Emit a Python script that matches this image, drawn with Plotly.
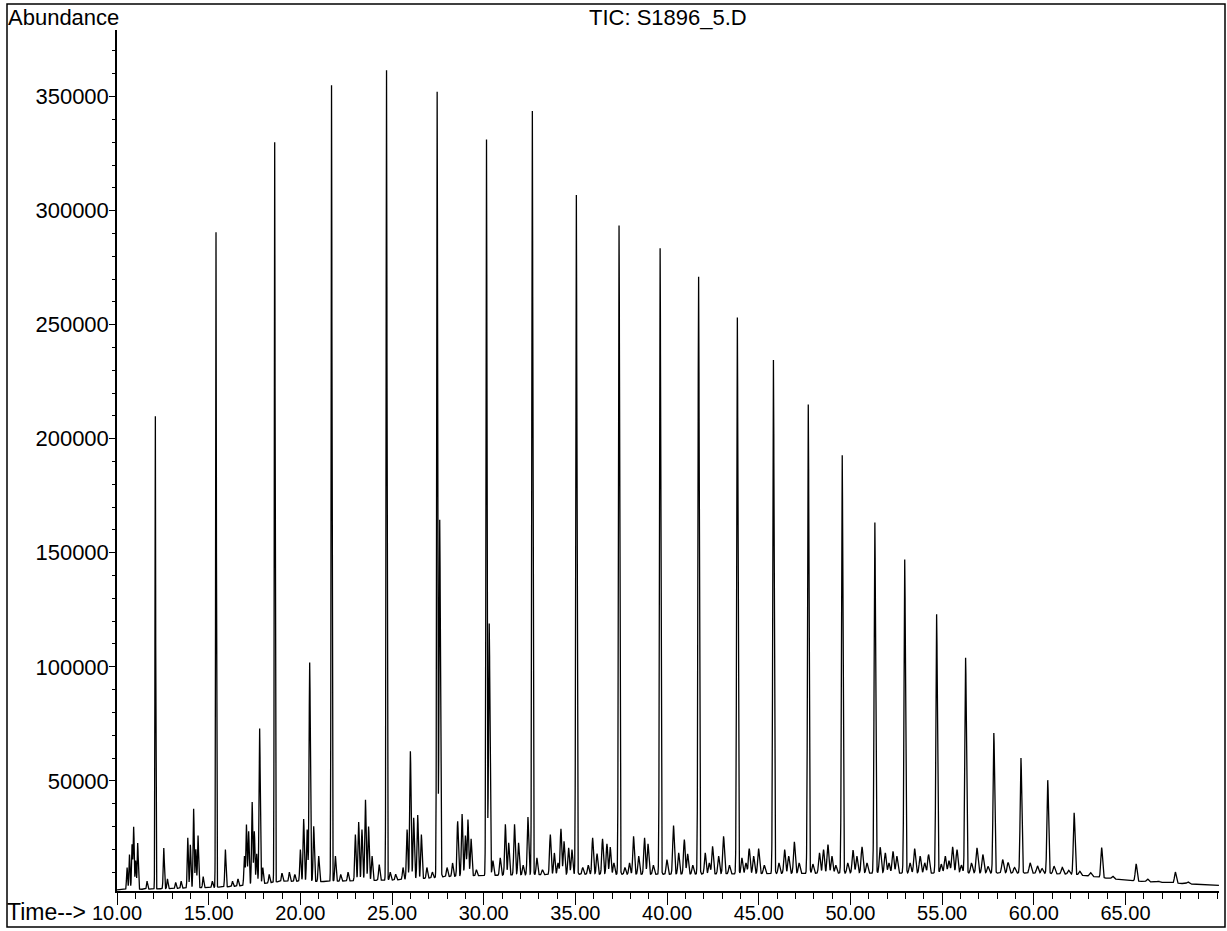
import numpy as np
import plotly.graph_objects as go

# Retention times (min) and apex abundances of the homologous series peaks
ALK_T = [12.09, 15.40, 18.60, 21.70, 24.70, 27.46, 30.15, 32.65, 35.05, 37.38,
         39.62, 41.72, 43.83, 45.80, 47.70, 49.55, 51.33, 52.96, 54.70, 56.28,
         57.82, 59.30, 60.76, 62.20, 63.70, 65.58, 67.72]
ALK_H = [211000, 290500, 330000, 355000, 361500, 352000, 332000, 344500, 307500, 293500,
         283500, 271000, 253500, 234500, 215000, 193000, 163500, 147000, 123000, 104000,
         71000, 60000, 50300, 36000, 20700, 13600, 10000]

# Smaller resolved peaks: retention time (min) and apex abundance
MINOR_T = [10.55, 10.68, 10.82, 10.91, 11.02, 11.13, 11.64, 12.55, 12.75, 13.20,
           13.50, 13.86, 14.00, 14.18, 14.30, 14.42, 14.70, 15.20, 15.91, 16.30,
           16.60, 16.95, 17.06, 17.18, 17.37, 17.49, 17.62, 17.78, 17.95, 18.30,
           19.00, 19.40, 19.70, 20.00, 20.18, 20.37, 20.51, 20.73, 21.00, 21.91,
           22.20, 22.60, 23.00, 23.18, 23.36, 23.55, 23.72, 23.91, 24.30, 24.90,
           25.20, 25.60, 25.82, 26.00, 26.18, 26.40, 26.60, 26.90, 27.20, 27.60,
           28.00, 28.30, 28.58, 28.82, 29.00, 29.14, 29.31, 29.60, 30.30, 30.50,
           30.90, 31.18, 31.36, 31.68, 31.90, 32.15, 32.41, 32.90, 33.20, 33.63,
           33.85, 34.05, 34.21, 34.38, 34.63, 34.81, 35.40, 35.70, 35.94, 36.18,
           36.48, 36.72, 36.90, 37.10, 37.70, 37.95, 38.17, 38.45, 38.77, 38.96,
           39.25, 39.99, 40.35, 40.63, 40.94, 41.12, 41.40, 42.08, 42.30, 42.48,
           42.81, 43.08, 43.40, 44.08, 44.30, 44.48, 44.72, 44.99, 45.30, 46.10,
           46.41, 46.63, 46.94, 47.20, 47.95, 48.31, 48.53, 48.77, 48.99, 49.20,
           49.85, 50.14, 50.35, 50.63, 50.90, 51.62, 51.90, 52.10, 52.32, 52.53,
           53.25, 53.50, 53.80, 54.05, 54.26, 54.95, 55.17, 55.37, 55.57, 55.81,
           56.05, 56.60, 56.90, 57.22, 57.50, 58.30, 58.60, 58.95, 59.80, 60.20,
           60.45, 61.10, 61.55, 61.90, 62.50, 63.10, 64.30, 66.20, 66.80, 68.40]
MINOR_H = [12000, 17700, 22000, 29800, 15000, 22800, 6000, 20600, 7000, 5500,
           6000, 25000, 22000, 37700, 20000, 26000, 8000, 6000, 19900, 6000,
           7000, 17000, 30800, 27900, 40800, 27900, 18000, 72900, 12000, 9000,
           9500, 10000, 9000, 19900, 33300, 28700, 102000, 30100, 17000, 17000,
           9000, 10000, 26500, 31900, 28700, 41800, 30000, 17000, 13300, 10000,
           9000, 12000, 28700, 63000, 33800, 35000, 26500, 12000, 10000, 164500,
           12000, 14000, 32300, 35500, 26000, 33000, 24600, 11000, 119000, 15000,
           16200, 31000, 22800, 31000, 22800, 13000, 34200, 16200, 11000, 26500,
           18400, 14000, 29000, 23500, 20600, 19900, 12000, 13000, 25000, 18100,
           24600, 22400, 21000, 14000, 12000, 14000, 25700, 17000, 25000, 22400,
           13000, 15500, 30400, 18400, 24300, 18000, 13000, 18400, 14000, 21300,
           17000, 25700, 13000, 16200, 14000, 20300, 17000, 20300, 13000, 14000,
           19900, 17000, 23300, 14000, 13500, 18400, 19900, 22100, 17000, 13000,
           14000, 19600, 17000, 21100, 14000, 20900, 18400, 14000, 19100, 17000,
           14000, 20300, 17000, 14000, 17700, 13500, 17000, 15000, 21100, 19900,
           13000, 14000, 20600, 17700, 12500, 15500, 14200, 12000, 14000, 12700,
           11500, 12600, 12000, 10800, 10400, 9700, 8200, 7000, 6000, 5700]

# Baseline level under the peaks (time, abundance)
BASE_T = [10.0, 12.0, 14.0, 16.0, 17.5, 19.0, 21.0, 23.0, 25.0, 26.5, 28.0, 30.0,
          35.0, 40.0, 45.0, 50.0, 55.0, 60.0, 62.0, 63.0, 64.0, 65.0, 66.0, 67.0,
          68.5, 70.1]
BASE_V = [2200, 2600, 3000, 3500, 4500, 6000, 5800, 6200, 6500, 7000, 8000, 8500,
          9000, 9000, 9300, 9500, 9500, 9500, 9000, 8300, 7300, 6500, 5800, 5500,
          4800, 4200]

X_TICKS = [10, 15, 20, 25, 30, 35, 40, 45, 50, 55, 60, 65]
Y_TICKS = [50000, 100000, 150000, 200000, 250000, 300000, 350000]

# Build the total ion current trace: baseline plus a Gaussian per peak
t = np.arange(10.0, 70.1, 0.004)
base = np.interp(t, BASE_T, BASE_V)
signal = base.copy()


def add_peaks(times, apexes, s0, ds):
    global signal
    for tc, h in zip(times, apexes):
        amp = h - np.interp(tc, BASE_T, BASE_V)
        sig = s0 + ds * (tc - 10.0)
        signal = signal + amp * np.exp(-0.5 * ((t - tc) / sig) ** 2)


add_peaks(ALK_T, ALK_H, 0.018, 0.0005)
add_peaks(MINOR_T, MINOR_H, 0.028, 0.0005)

FONT = "Liberation Sans, Arial, Helvetica, sans-serif"
W, H = 1227, 931
L, R, T, B = 117, 8, 30, 40
PW, PH = W - L - R, H - T - B


def px(xp):
    return (xp - L) / PW


def py(yp):
    return (H - B - yp) / PH


fig = go.Figure(go.Scatter(x=t, y=signal, mode="lines",
                           line=dict(color="black", width=1.3),
                           hoverinfo="skip", showlegend=False))

fig.update_layout(
    width=W, height=H,
    margin=dict(l=L, r=R, t=T, b=B, autoexpand=False),
    paper_bgcolor="white", plot_bgcolor="white",
    font=dict(family=FONT, color="black"),
    xaxis=dict(
        range=[10.0, 70.1], showgrid=False, zeroline=False, automargin=False,
        showline=True, linecolor="black", linewidth=1.5,
        ticks="outside", ticklen=12, tickwidth=1.3, tickcolor="black",
        tickmode="array", tickvals=X_TICKS,
        ticktext=[f"{v:.2f}" for v in X_TICKS],
        ticklabelstandoff=-9,
        tickfont=dict(size=20, family=FONT, color="black"),
        minor=dict(tickmode="linear", tick0=10, dtick=1, ticks="outside",
                   ticklen=6, tickwidth=1.2, tickcolor="black", showgrid=False),
    ),
    yaxis=dict(
        range=[1700, 379200], showgrid=False, zeroline=False, automargin=False,
        showline=True, linecolor="black", linewidth=1.5,
        ticks="outside", ticklen=6, tickwidth=1.2, tickcolor="black",
        tickmode="array", tickvals=Y_TICKS,
        ticktext=[str(v) for v in Y_TICKS],
        ticklabelstandoff=-4,
        tickfont=dict(size=22, family=FONT, color="black"),
        minor=dict(tickmode="linear", tick0=0, dtick=10000, ticks="outside",
                   ticklen=3, tickwidth=1, tickcolor="black", showgrid=False),
    ),
    shapes=[dict(type="rect", xref="paper", yref="paper",
                 x0=px(7), x1=px(1225), y0=py(927), y1=py(4),
                 line=dict(color="black", width=1.5), fillcolor="rgba(0,0,0,0)",
                 layer="below")],
    annotations=[
        dict(text="TIC: S1896_5.D", xref="paper", yref="paper", x=0.5, y=py(18),
             xanchor="center", yanchor="middle", showarrow=False,
             font=dict(size=22, family=FONT, color="black")),
        dict(text="Abundance", xref="paper", yref="paper", x=px(6), y=py(18),
             xanchor="left", yanchor="middle", showarrow=False,
             font=dict(size=22, family=FONT, color="black")),
        dict(text="Time-->", xref="paper", yref="paper", x=px(5), y=py(912),
             xanchor="left", yanchor="middle", showarrow=False,
             font=dict(size=23, family=FONT, color="black")),
    ],
)

fig.write_html("out.html")
